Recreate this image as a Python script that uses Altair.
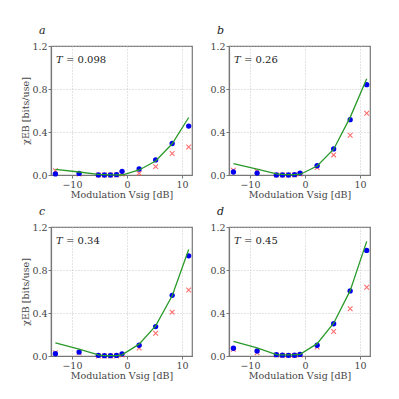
import altair as alt
import pandas as pd

x_vals = [-13.0, -8.7, -5.2, -4.1, -3.0, -1.9, -0.9, 2.2, 5.2, 8.2, 11.2]

letters = ["a", "b", "c", "d"]
temps = ["0.098", "0.26", "0.34", "0.45"]

blue_a = [0.01, 0.015, 0.0, 0.0, 0.0, 0.003, 0.034, 0.056, 0.14, 0.293, 0.455]
red_a = [0.04, 0.01, 0.0, 0.0, 0.0, 0.0, 0.01, 0.015, 0.078, 0.2, 0.26]
line_a = [0.053, 0.028, 0.006, 0.004, 0.002, 0.001, 0.0, 0.047, 0.13, 0.29, 0.535]

blue_b = [0.028, 0.018, 0.0, 0.0, 0.0, 0.003, 0.018, 0.087, 0.243, 0.515, 0.84]
red_b = [0.044, 0.034, 0.0, 0.0, 0.0, 0.0, 0.01, 0.069, 0.187, 0.37, 0.574]
line_b = [0.106, 0.055, 0.01, 0.005, 0.003, 0.003, 0.005, 0.084, 0.24, 0.536, 0.895]

blue_c = [0.022, 0.037, 0.006, 0.003, 0.003, 0.005, 0.02, 0.1, 0.274, 0.564, 0.932]
red_c = [0.03, 0.03, 0.0, 0.0, 0.0, 0.0, 0.01, 0.075, 0.212, 0.408, 0.614]
line_c = [0.122, 0.065, 0.01, 0.003, 0.003, 0.003, 0.01, 0.11, 0.28, 0.56, 0.99]

blue_d = [0.072, 0.047, 0.012, 0.008, 0.006, 0.007, 0.015, 0.1, 0.3, 0.605, 0.982]
red_d = [0.062, 0.03, 0.01, 0.005, 0.005, 0.005, 0.01, 0.084, 0.228, 0.44, 0.64]
line_d = [0.137, 0.075, 0.012, 0.01, 0.01, 0.012, 0.015, 0.115, 0.305, 0.608, 1.066]

series = [(blue_a, red_a, line_a), (blue_b, red_b, line_b),
          (blue_c, red_c, line_c), (blue_d, red_d, line_d)]

FONT = "'DejaVu Serif', 'Liberation Serif', serif"
XS = alt.Scale(domain=[-13.8, 11.8], nice=False, zero=False)
YS = alt.Scale(domain=[0, 1.2], nice=False)
XCROSS = "M-1,-1L1,1M-1,1L1,-1"


def panel(i):
    blue, red, line = series[i]
    df = pd.DataFrame({"x": x_vals, "blue": blue, "red": red, "line": line})
    left = i % 2 == 0
    xenc = alt.X("x:Q", scale=XS,
                 axis=alt.Axis(values=[-10, 0, 10], title="Modulation Vsig [dB]"))
    yaxis = alt.Axis(values=[0, 0.4, 0.8, 1.2], format=".1f",
                     title="χEB [bits/use]" if left else "")
    base = alt.Chart(df)
    red_m = base.mark_point(shape=XCROSS, size=22, strokeWidth=1.1,
                            color="#ff4a4a", opacity=0.8).encode(
        x=xenc, y=alt.Y("red:Q", scale=YS, axis=yaxis))
    blue_m = base.mark_circle(size=28, color="#0000ee", opacity=1).encode(
        x="x:Q", y="blue:Q")
    line_m = base.mark_line(color="#2a9a2a", strokeWidth=1.3).encode(
        x="x:Q", y="line:Q")
    tdf = pd.DataFrame({"x": [-12.9], "y": [1.07], "t": ["T"],
                        "v": [f"= {temps[i]}"]})
    t_sym = alt.Chart(tdf).mark_text(align="left", baseline="middle", font=FONT,
                                     fontStyle="italic", fontSize=10,
                                     color="#222").encode(
        x="x:Q", y="y:Q", text="t:N")
    t_val = alt.Chart(tdf).mark_text(align="left", baseline="middle", font=FONT,
                                     fontSize=10, dx=10, color="#222").encode(
        x="x:Q", y="y:Q", text="v:N")
    return alt.layer(red_m, blue_m, line_m, t_sym, t_val).properties(
        width=141, height=129,
        title=alt.TitleParams(letters[i], anchor="start", frame="group",
                              font=FONT, fontStyle="italic", fontSize=11,
                              fontWeight="normal", offset=5, dx=-12,
                              color="#222"))


chart = alt.concat(*[panel(i) for i in range(4)], columns=2,
                   spacing={"row": 5, "column": 15}).properties(
    padding={"left": 12, "top": 16, "right": 5, "bottom": 5}
).configure_view(stroke="#777", strokeWidth=1.2).configure_axis(
    labelFont=FONT, titleFont=FONT, labelFontSize=9.5, titleFontSize=9.5,
    titleFontWeight="normal", labelColor="#444", titleColor="#444",
    domainColor="#777", domainWidth=1.2, tickColor="#777", tickSize=3,
    gridColor="#bbbbbb", gridDash=[1, 2], gridWidth=0.8,
    labelPadding=1, titlePadding=1
)

chart.save("out.html", embed_options={"renderer": "svg", "actions": False})
